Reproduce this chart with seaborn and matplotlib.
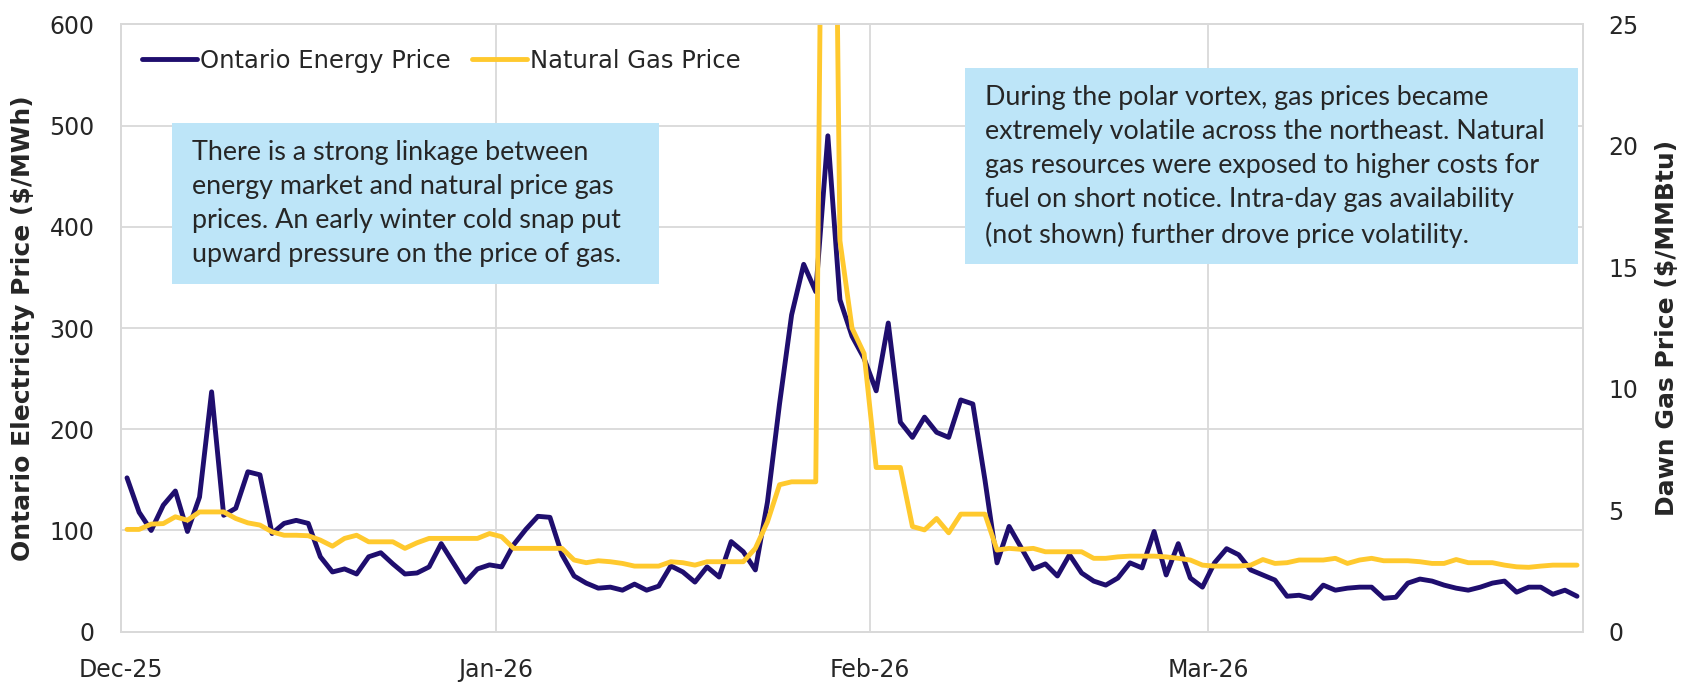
import matplotlib
matplotlib.use("Agg")
import matplotlib.pyplot as plt
import matplotlib.dates as mdates
from matplotlib.patches import Rectangle
import pandas as pd
import seaborn as sns

# daily values, Dec 1 2025 .. Mar 31 2026
ontario_price = [
    152, 118, 100, 125, 139, 99, 133, 237, 115, 122, 158, 155, 97, 107, 110, 107,
    74, 59, 62, 57, 74, 78, 67, 57, 58, 64, 87, 68, 49, 62, 66,
    64, 86, 101, 114, 113, 76, 55, 48, 43, 44, 41, 47, 41, 45, 65, 59,
    49, 64, 54, 89, 79, 61, 128, 225, 313, 363, 336, 490, 328, 292, 270,
    238, 305, 207, 192, 212, 197, 192, 229, 225, 150, 68, 104, 83, 62, 67,
    55, 76, 58, 50, 46, 53, 68, 63, 99, 56, 87, 53, 44,
    68, 82, 76, 61, 56, 51, 35, 36, 33, 46, 41, 43, 44, 44, 33, 34,
    48, 52, 50, 46, 43, 41, 44, 48, 50, 39, 44, 44, 37, 41, 35,
]
gas_price = [
    4.21, 4.21, 4.43, 4.45, 4.73, 4.59, 4.93, 4.93, 4.93, 4.66, 4.48, 4.39, 4.11,
    3.97, 3.97, 3.95, 3.77, 3.52, 3.84, 3.97, 3.70, 3.70, 3.70, 3.43, 3.66, 3.84,
    3.84, 3.84, 3.84, 3.84, 4.04,
    3.91, 3.43, 3.43, 3.43, 3.43, 3.43, 2.95, 2.84, 2.92, 2.88, 2.81, 2.70, 2.70,
    2.70, 2.88, 2.84, 2.74, 2.88, 2.88, 2.88, 2.88, 3.43, 4.52, 6.05, 6.17, 6.17,
    6.17, 60.0, 16.1, 12.5, 11.45,
    6.76, 6.76, 6.76, 4.33, 4.19, 4.66, 4.07, 4.84, 4.84, 4.84, 3.36, 3.43, 3.39,
    3.43, 3.29, 3.29, 3.29, 3.29, 3.02, 3.02, 3.08, 3.11, 3.11, 3.11, 3.08, 3.02,
    2.95, 2.74,
    2.70, 2.70, 2.70, 2.74, 2.97, 2.81, 2.84, 2.95, 2.95, 2.95, 3.02, 2.81, 2.95,
    3.02, 2.92, 2.92, 2.92, 2.88, 2.81, 2.81, 2.97, 2.84, 2.84, 2.84, 2.74, 2.67,
    2.65, 2.70, 2.74, 2.74, 2.74,
]
dates = pd.date_range("2025-12-01 12:00", periods=len(ontario_price), freq="D")
month_ticks = pd.to_datetime(["2025-12-01", "2026-01-01", "2026-02-01", "2026-03-01"])

note_left = ("There is a strong linkage between\n"
             "energy market and natural price gas\n"
             "prices. An early winter cold snap put\n"
             "upward pressure on the price of gas.")
note_right = ("During the polar vortex, gas prices became\n"
              "extremely volatile across the northeast. Natural\n"
              "gas resources were exposed to higher costs for\n"
              "fuel on short notice. Intra-day gas availability\n"
              "(not shown) further drove price volatility.")

df = pd.DataFrame({"date": dates, "ontario": ontario_price, "gas": gas_price})

navy = "#1F0E6E"
gold = "#FFC92E"
grid_col = "#D9D9D9"

sns.set_style("white")
plt.rcParams["font.family"] = ["DejaVu Sans"]

fig, ax = plt.subplots(figsize=(16.85, 6.84), dpi=100)
fig.subplots_adjust(left=0.0718, right=0.9395, bottom=0.0765, top=0.9642)
ax2 = ax.twinx()

sns.lineplot(data=df, x="date", y="ontario", ax=ax, color=navy, linewidth=3.5,
             label="Ontario Energy Price")
sns.lineplot(data=df, x="date", y="gas", ax=ax2, color=gold, linewidth=3.5,
             label="Natural Gas Price")

ax.set_xlim(pd.Timestamp("2025-12-01"), pd.Timestamp("2026-04-01"))
ax.set_ylim(0, 600)
ax2.set_ylim(0, 25)
ax.set_yticks(range(0, 601, 100))
ax2.set_yticks(range(0, 26, 5))
ax.set_xticks(month_ticks)
ax.xaxis.set_major_formatter(mdates.DateFormatter("%b-%y"))

ax.grid(True, color=grid_col, linewidth=1.3)
ax2.grid(False)
for a in (ax, ax2):
    for s in a.spines.values():
        s.set_color(grid_col)
        s.set_linewidth(1.3)

ax.tick_params(axis="y", length=0, pad=19, labelsize=17)
ax2.tick_params(axis="y", length=0, pad=18, labelsize=17)
ax.tick_params(axis="x", length=7, width=1.3, color=grid_col, pad=12, labelsize=17)

ax.set_xlabel("")
ax.set_ylabel("Ontario Electricity Price ($/MWh)", fontsize=18, fontweight="bold")
ax2.set_ylabel("Dawn Gas Price ($/MMBtu)", fontsize=18, fontweight="bold")
ax.yaxis.set_label_coords(-0.0585, 0.5)
ax2.yaxis.set_label_coords(1.0492, 0.5)

# legend with both series
h1, l1 = ax.get_legend_handles_labels()
h2, l2 = ax2.get_legend_handles_labels()
if ax.get_legend():
    ax.get_legend().remove()
ax2.legend(h1 + h2, l1 + l2, loc="center left", bbox_to_anchor=(0.0142, 0.940),
           ncol=2, frameon=False, fontsize=17.5, borderpad=0, borderaxespad=0,
           handlelength=2.26, handletextpad=0.12, columnspacing=0.9)

# annotation boxes
box_col = "#BDE5F8"
ax2.add_patch(Rectangle((0.0347, 0.5726), 0.3333, 0.2652, transform=ax.transAxes,
                        facecolor=box_col, edgecolor="none", zorder=5))
ax2.text(0.0484, 0.7044, note_left, transform=ax.transAxes, ha="left", va="center",
         fontsize=19.4, family=["Lato", "DejaVu Sans"], linespacing=1.45, zorder=6)
ax2.add_patch(Rectangle((0.5773, 0.6056), 0.4191, 0.3228, transform=ax.transAxes,
                        facecolor=box_col, edgecolor="none", zorder=5))
ax2.text(0.591, 0.7657, note_right, transform=ax.transAxes, ha="left", va="center",
         fontsize=19.4, family=["Lato", "DejaVu Sans"], linespacing=1.45, zorder=6)

fig.savefig("out.png", dpi=100)
